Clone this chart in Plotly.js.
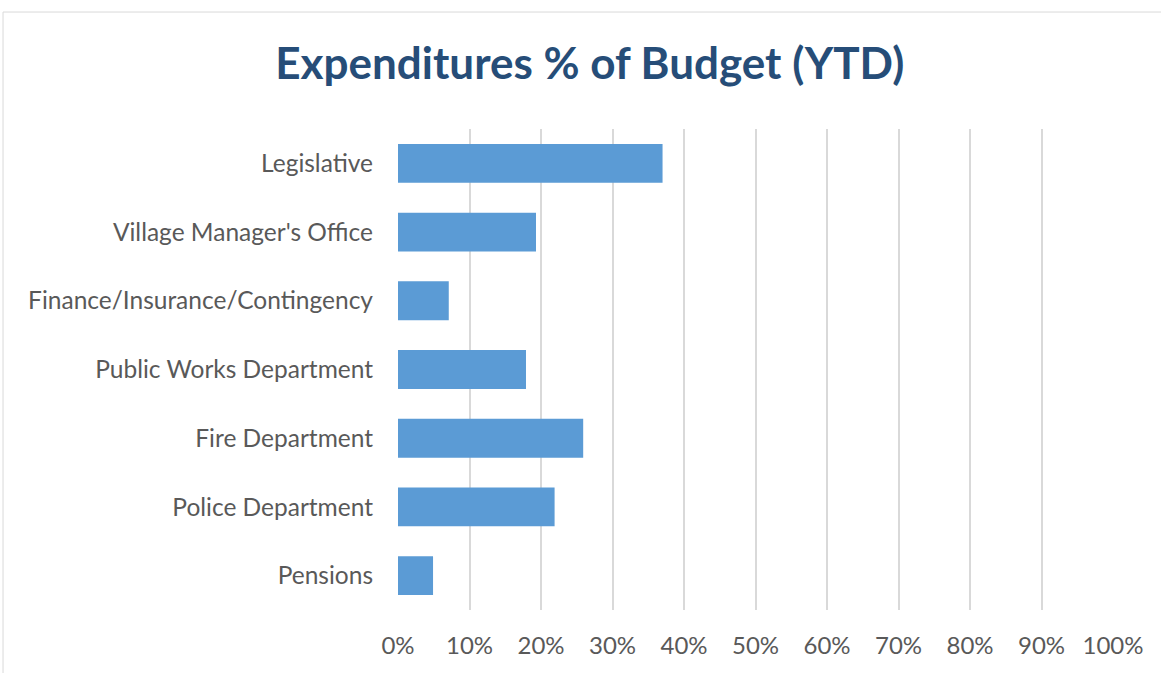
<!DOCTYPE html>
<html>
<head>
<meta charset="utf-8">
<script src="https://cdn.plot.ly/plotly-3.0.1.min.js"></script>
<style>
  body { margin: 0; background: #fff; }
  #chart { width: 1161px; height: 673px; }
</style>
</head>
<body>
<div id="chart"></div>
<script>
// departments, top to bottom as in the chart
var departments = [
  "Legislative",
  "Village Manager's Office",
  "Finance/Insurance/Contingency",
  "Public Works Department",
  "Fire Department",
  "Police Department",
  "Pensions"
];
// share of budget spent YTD
var pctSpent = [0.37, 0.193, 0.071, 0.179, 0.259, 0.219, 0.049];
var tickVals = [0, 0.1, 0.2, 0.3, 0.4, 0.5, 0.6, 0.7, 0.8, 0.9, 1.0];
var tickText = ["0%", "10%", "20%", "30%", "40%", "50%", "60%", "70%", "80%", "90%", "100%"];

var trace1 = {
  type: "bar",
  orientation: "h",
  x: pctSpent,
  y: departments,
  marker: { color: "#5B9BD5" },
  hoverinfo: "y+x"
};

var layout = {
  width: 1161,
  height: 673,
  margin: { l: 398, r: 48, t: 129, b: 63 },
  paper_bgcolor: "#fff",
  plot_bgcolor: "#fff",
  font: { family: "Lato, 'Open Sans', sans-serif", color: "#595959", size: 24 },
  title: {
    text: "<b>Expenditures % of Budget (YTD)</b>",
    font: { family: "Lato, 'Open Sans', sans-serif", size: 44, color: "#264D78" },
    x: 0.508,
    xanchor: "center",
    y: 0.905,
    yanchor: "middle"
  },
  bargap: 0.435,
  showlegend: false,
  xaxis: {
    range: [0, 1],
    tickvals: tickVals,
    ticktext: tickText,
    showgrid: true,
    gridcolor: "#d9d9d9",
    gridwidth: 1.5,
    zeroline: false,
    showline: false,
    ticks: "",
    ticklabelstandoff: 19
  },
  yaxis: {
    autorange: "reversed",
    showgrid: false,
    zeroline: false,
    showline: false,
    ticks: "",
    ticklabelstandoff: 24,
    tickfont: { size: 24.5 }
  },
  shapes: [{
    type: "rect",
    xref: "paper", yref: "paper",
    x0: -0.5524, x1: 1.08,
    y0: -0.15, y1: 1.2432,
    line: { color: "#d9d9d9", width: 1 }
  }]
};

var config = { responsive: false, displayModeBar: false };

Plotly.newPlot("chart", [trace1], layout, config);
</script>
</body>
</html>
